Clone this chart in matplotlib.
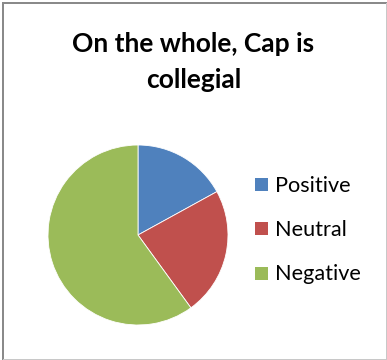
import matplotlib
matplotlib.use("Agg")
import matplotlib.pyplot as plt
from matplotlib.lines import Line2D
from matplotlib.patches import Rectangle

# Survey responses (percent of respondents)
categories = ["Positive", "Neutral", "Negative"]
shares = [17, 23, 60]
colors = ["#4F81BD", "#C0504D", "#9BBB59"]
title_lines = ["On the whole, Cap is", "collegial"]

W, H, DPI = 387, 360, 100
fig = plt.figure(figsize=(W / DPI, H / DPI), dpi=DPI)
fig.patch.set_facecolor("white")

def px(x, y):
    return x / W, 1 - y / H

# chart frame
for (x0, y0, x1, y1, c, lw) in [
    (3, 3, 3, 359, "#8a8a8a", 2.0),
    (3, 3, 386, 3, "#8a8a8a", 2.0),
    (386, 3, 386, 359, "#c8c8c8", 1.0),
    (3, 359, 386, 359, "#c8c8c8", 1.0),
]:
    a, b = px(x0, y0)
    c2, d = px(x1, y1)
    fig.add_artist(Line2D([a, c2], [b, d], color=c, lw=lw * 72 / DPI,
                          transform=fig.transFigure))

# pie
cx, cy, r = 138, 235, 90
ax = fig.add_axes([(cx - r) / W, (H - cy - r) / H, 2 * r / W, 2 * r / H])
ax.pie(shares, colors=colors, startangle=90, counterclock=False,
       wedgeprops=dict(linewidth=0.6, edgecolor="white"), radius=1)
ax.set_xlim(-1, 1)
ax.set_ylim(-1, 1)
ax.set_aspect("equal")
ax.axis("off")

# title, two centred lines
for line, base in zip(title_lines, [52.5, 88]):
    tx, ty = px(193.5, base)
    fig.text(tx, ty, line, ha="center", va="baseline", family="Lato",
             weight="bold", fontsize=19)

# legend: colour keys with labels
for i, (lab, col) in enumerate(zip(categories, colors)):
    top = 177.5 + 44.5 * i
    x0, y0 = px(255, top + 13)
    fig.add_artist(Rectangle((x0, y0), 13 / W, 13 / H, facecolor=col,
                             edgecolor="none", transform=fig.transFigure))
    tx, ty = px(275, top + 14)
    fig.text(tx, ty, lab, ha="left", va="baseline", family="Lato",
             fontsize=15.6)

fig.savefig("out.png", dpi=DPI, facecolor="white")
